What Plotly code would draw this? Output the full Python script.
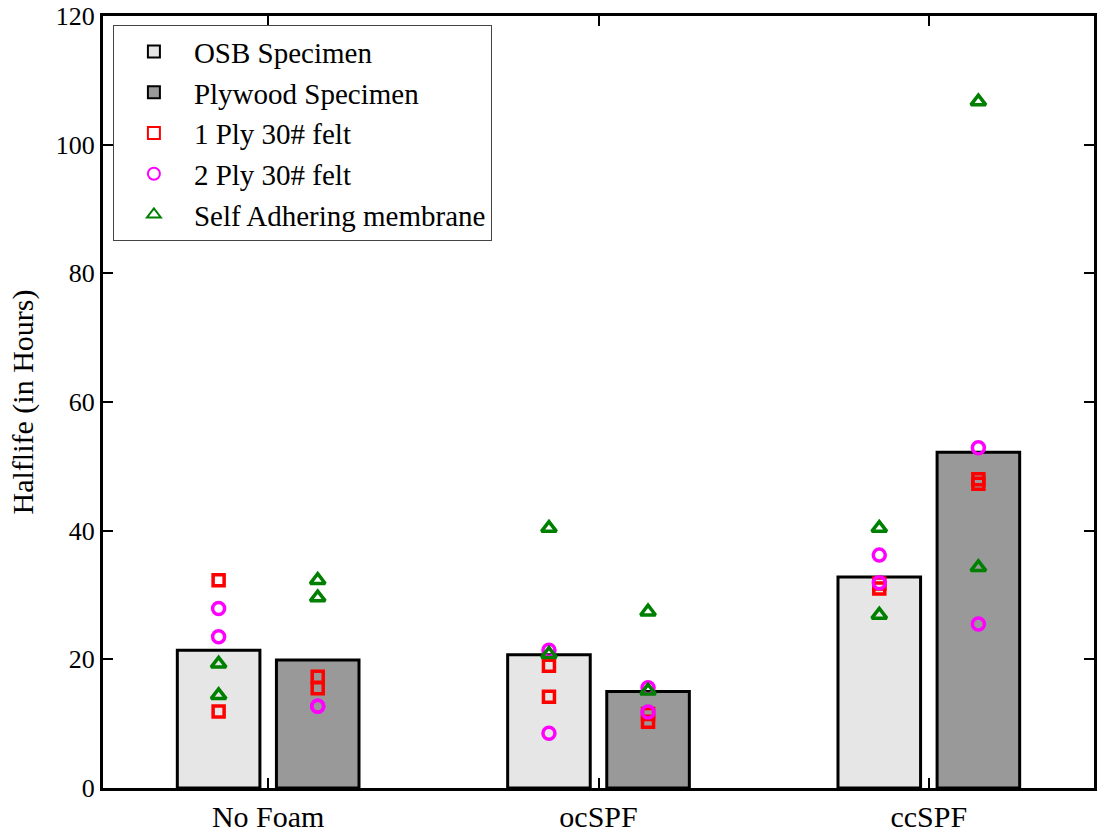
import plotly.graph_objects as go

categories = ["No Foam", "ocSPF", "ccSPF"]
osb_mean = [21.4, 20.7, 32.8]
ply_mean = [19.9, 15.0, 52.2]

# individual specimen values per category
felt1_osb = [[32.3, 11.9], [19.0, 14.2], [31.0, 31.8]]
felt1_ply = [[17.3, 15.5], [11.5, 10.3], [47.3, 48.0]]
felt2_osb = [[27.9, 23.5], [21.4, 8.5], [36.2, 31.9]]
felt2_ply = [[12.7, 12.7], [15.6, 11.8], [52.9, 25.5]]
sam_osb = [[19.3, 14.4], [40.4, 20.8], [40.4, 26.9]]
sam_ply = [[32.3, 29.6], [27.4, 15.1], [106.7, 34.3]]
y_ticks = [0, 20, 40, 60, 80, 100, 120]

OFF = 0.15
BW = 0.25
FONT = "Liberation Serif"

cat_pos = list(range(1, len(categories) + 1))
osb_x = [p - OFF for p in cat_pos]
ply_x = [p + OFF for p in cat_pos]

fig = go.Figure()
fig.add_trace(go.Bar(x=osb_x, y=osb_mean, width=BW, name="OSB Specimen",
                     marker=dict(color="#e6e6e6", line=dict(color="black", width=3))))
fig.add_trace(go.Bar(x=ply_x, y=ply_mean, width=BW, name="Plywood Specimen",
                     marker=dict(color="#999999", line=dict(color="black", width=3))))


def flatten(osb, ply):
    xs, ys = [], []
    for i, vals in enumerate(osb):
        for v in vals:
            xs.append(osb_x[i]); ys.append(v)
    for i, vals in enumerate(ply):
        for v in vals:
            xs.append(ply_x[i]); ys.append(v)
    return xs, ys


series = [
    ("1 Ply 30# felt", felt1_osb, felt1_ply, "square-open", "#ff0000", 11),
    ("2 Ply 30# felt", felt2_osb, felt2_ply, "circle-open", "#ff00ff", 12),
    ("Self Adhering membrane", sam_osb, sam_ply, "triangle-up-open", "#008000", 13),
]
for name, o, p, sym, col, sz in series:
    xs, ys = flatten(o, p)
    fig.add_trace(go.Scatter(x=xs, y=ys, mode="markers", name=name,
                             marker=dict(symbol=sym, size=sz, color=col,
                                         line=dict(color=col, width=3.5))))

fig.update_layout(
    width=1099, height=838,
    margin=dict(l=103, r=5, t=16, b=41),
    paper_bgcolor="white", plot_bgcolor="white",
    barmode="overlay",
    font=dict(family=FONT, size=29, color="black"),
    showlegend=True,
    legend=dict(x=0.01, y=0.988, xanchor="left", yanchor="top",
                bgcolor="white", bordercolor="#444444", borderwidth=1,
                font=dict(size=29, family=FONT), tracegroupgap=0,
                itemsizing="constant", itemwidth=70),
)
fig.update_xaxes(range=[0.5, 3.5], tickmode="array", tickvals=cat_pos,
                 ticktext=categories, ticks="inside", ticklen=10, tickwidth=2,
                 tickcolor="black", showline=True, linecolor="black", linewidth=3,
                 mirror="ticks", showgrid=False, zeroline=False,
                 ticklabeloverflow="allow",
                 tickfont=dict(size=30, family=FONT))
fig.update_yaxes(range=[0, 120], tickmode="array", tickvals=y_ticks,
                 ticks="inside", ticklen=10, tickwidth=2, tickcolor="black",
                 showline=True, linecolor="black", linewidth=3, mirror="ticks",
                 showgrid=False, zeroline=False, automargin=False,
                 ticklabeloverflow="allow",
                 title=dict(text="Halflife (in Hours)", font=dict(size=30, family=FONT), standoff=14),
                 tickfont=dict(size=26, family=FONT))

fig.write_html("out.html")
